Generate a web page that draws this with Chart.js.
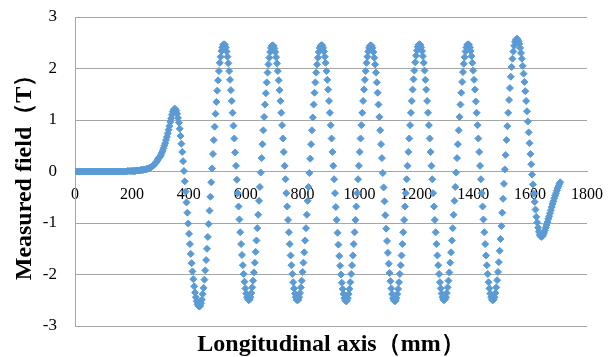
<!DOCTYPE html>
<html>
<head>
<meta charset="utf-8">
<script src="https://cdn.jsdelivr.net/npm/chart.js@4/dist/chart.umd.min.js"></script>
<style>
html,body{margin:0;padding:0;background:#ffffff;}
canvas{display:block;}
</style>
</head>
<body>
<canvas id="chart" width="608" height="357"></canvas>
<script>
// Tick labels
const xTickValues = [0, 200, 400, 600, 800, 1000, 1200, 1400, 1600, 1800];
const yTickValues = [-3, -2, -1, 0, 1, 2, 3];

// Measurement positions along the longitudinal axis (mm)
const positionMm = [
0,5,10,15,20,25,30,35,40,45,50,55,60,65,70,75,80,85,90,95,
100,105,110,115,120,125,130,135,140,145,150,155,160,165,170,175,180,185,190,195,
200,203,206,209,212,215,218,221,224,227,230,233,236,239,242,245,248,251,254,257,
260,263,266,269,272,275,278,281,284,287,290,293,296,299,302,305,308,311,314,317,
320,323,326,329,332,335,338,341,344,347,
350,353,356,359,362,365,368,371,374,377,380,383,386,389,392,395,398,401,404,407,
410,413,416,419,422,425,428,431,434,437,440,443,446,449,452,455,458,461,464,467,
470,473,476,479,482,485,488,491,494,497,500,503,506,509,512,515,518,521,524,527,
530,533,536,539,542,545,548,551,554,557,560,563,566,569,572,575,578,581,584,587,
590,593,596,599,602,605,608,611,614,617,620,623,626,629,632,635,638,641,644,647,
650,653,656,659,662,665,668,671,674,677,680,683,686,689,692,695,698,701,704,707,
710,713,716,719,722,725,728,731,734,737,740,743,746,749,752,755,758,761,764,767,
770,773,776,779,782,785,788,791,794,797,800,803,806,809,812,815,818,821,824,827,
830,833,836,839,842,845,848,851,854,857,860,863,866,869,872,875,878,881,884,887,
890,893,896,899,902,905,908,911,914,917,920,923,926,929,932,935,938,941,944,947,
950,953,956,959,962,965,968,971,974,977,980,983,986,989,992,995,998,1001,1004,1007,
1010,1013,1016,1019,1022,1025,1028,1031,1034,1037,1040,1043,1046,1049,1052,1055,1058,1061,1064,1067,
1070,1073,1076,1079,1082,1085,1088,1091,1094,1097,1100,1103,1106,1109,1112,1115,1118,1121,1124,1127,
1130,1133,1136,1139,1142,1145,1148,1151,1154,1157,1160,1163,1166,1169,1172,1175,1178,1181,1184,1187,
1190,1193,1196,1199,1202,1205,1208,1211,1214,1217,1220,1223,1226,1229,1232,1235,1238,1241,1244,1247,
1250,1253,1256,1259,1262,1265,1268,1271,1274,1277,1280,1283,1286,1289,1292,1295,1298,1301,1304,1307,
1310,1313,1316,1319,1322,1325,1328,1331,1334,1337,1340,1343,1346,1349,1352,1355,1358,1361,1364,1367,
1370,1373,1376,1379,1382,1385,1388,1391,1394,1397,1400,1403,1406,1409,1412,1415,1418,1421,1424,1427,
1430,1433,1436,1439,1442,1445,1448,1451,1454,1457,1460,1463,1466,1469,1472,1475,1478,1481,1484,1487,
1490,1493,1496,1499,1502,1505,1508,1511,1514,1517,1520,1523,1526,1529,1532,1535,1538,1541,1544,1547,
1550,1553,1556,1559,1562,1565,1568,1571,1574,1577,1580,1583,1586,1589,1592,1595,1598,1601,1604,1607,
1610,1613,1616,1619,1622,1625,1628,1631,1634,1637,1640,1643,1646,1649,1652,1655,1658,1661,1664,1667,
1670,1673,1676,1679,1682,1685,1688,1691,1694,1697,1700,1703,1706
];

// Measured field (T)
const fieldT = [
0,0,0,0,0,0,0,0,0,0,0,0,0,0,0,0,0,0,0,0,
0,0,0,0,0,0,0,0,0,0,0,0,0,0,0,0,0,0.01,0.01,0.01,
0.01,0.01,0.01,0.01,0.01,0.02,0.02,0.02,0.02,0.02,0.03,0.03,0.03,0.03,0.04,0.04,0.04,0.05,0.05,0.06,
0.06,0.07,0.08,0.09,0.10,0.12,0.13,0.15,0.17,0.19,0.22,0.25,0.27,0.29,0.32,0.36,0.40,0.45,0.50,0.55,
0.61,0.67,0.74,0.81,0.88,0.96,1.03,1.10,1.16,1.20,
1.22,1.21,1.18,1.12,1.04,0.95,0.83,0.69,0.54,0.38,0.20,0.01,-0.19,-0.39,-0.60,-0.80,-1.01,-1.21,-1.41,-1.60,-1.78,-1.94,-2.09,-2.23,-2.35,-2.44,-2.52,-2.58,-2.61,-2.62,
-2.61,-2.56,-2.49,-2.38,-2.26,-2.10,-1.92,-1.72,-1.50,-1.27,-1.02,-0.76,-0.49,-0.21,0.06,0.34,0.61,0.87,1.12,1.35,1.57,1.77,1.95,2.11,2.23,2.34,2.41,2.46,2.47,
2.46,2.41,2.33,2.23,2.10,1.95,1.78,1.58,1.37,1.14,0.89,0.64,0.37,0.11,-0.16,-0.42,-0.68,-0.93,-1.18,-1.41,-1.62,-1.82,-1.99,-2.14,-2.27,-2.37,-2.44,-2.48,-2.50,
-2.48,-2.44,-2.36,-2.25,-2.12,-1.96,-1.77,-1.56,-1.34,-1.10,-0.84,-0.57,-0.30,-0.02,0.26,0.53,0.80,1.06,1.30,1.52,1.73,1.92,2.08,2.21,2.32,2.40,2.44,2.45,
2.44,2.39,2.32,2.22,2.10,1.95,1.77,1.58,1.37,1.14,0.90,0.64,0.38,0.11,-0.15,-0.42,-0.68,-0.94,-1.18,-1.41,-1.63,-1.82,-1.99,-2.15,-2.27,-2.37,-2.44,-2.49,-2.50,
-2.49,-2.44,-2.36,-2.25,-2.12,-1.95,-1.77,-1.57,-1.34,-1.10,-0.84,-0.57,-0.30,-0.03,0.25,0.53,0.80,1.05,1.30,1.53,1.73,1.92,2.08,2.21,2.32,2.40,2.44,2.45,
2.45,2.40,2.33,2.23,2.11,1.95,1.78,1.59,1.37,1.14,0.90,0.64,0.38,0.11,-0.15,-0.42,-0.69,-0.94,-1.19,-1.42,-1.64,-1.83,-2.00,-2.16,-2.28,-2.38,-2.46,-2.50,-2.52,
-2.51,-2.46,-2.38,-2.28,-2.15,-1.99,-1.82,-1.63,-1.41,-1.18,-0.94,-0.68,-0.42,-0.15,0.11,0.38,0.64,0.90,1.14,1.37,1.59,1.78,1.95,2.11,2.23,2.33,2.40,2.44,2.45,
2.44,2.40,2.32,2.21,2.08,1.92,1.73,1.53,1.30,1.06,0.80,0.53,0.26,-0.03,-0.31,-0.58,-0.85,-1.11,-1.35,-1.58,-1.79,-1.97,-2.13,-2.27,-2.38,-2.46,-2.50,-2.52,
-2.51,-2.46,-2.38,-2.28,-2.15,-1.99,-1.82,-1.63,-1.41,-1.18,-0.94,-0.68,-0.42,-0.15,0.11,0.38,0.64,0.90,1.14,1.37,1.59,1.79,1.96,2.12,2.25,2.35,2.42,2.46,2.47,
2.46,2.41,2.34,2.24,2.11,1.96,1.78,1.59,1.37,1.14,0.90,0.64,0.38,0.11,-0.15,-0.42,-0.68,-0.94,-1.18,-1.41,-1.63,-1.82,-1.99,-2.15,-2.27,-2.37,-2.44,-2.49,-2.50,
-2.48,-2.44,-2.36,-2.25,-2.12,-1.96,-1.77,-1.57,-1.34,-1.10,-0.84,-0.57,-0.30,-0.02,0.26,0.53,0.80,1.06,1.30,1.53,1.74,1.93,2.09,2.22,2.33,2.41,2.46,2.47,
2.46,2.41,2.34,2.24,2.11,1.96,1.78,1.59,1.36,1.14,0.90,0.64,0.38,0.11,-0.15,-0.42,-0.68,-0.93,-1.18,-1.41,-1.63,-1.82,-1.99,-2.15,-2.27,-2.37,-2.44,-2.49,-2.50,
-2.48,-2.44,-2.36,-2.25,-2.11,-1.95,-1.76,-1.54,-1.31,-1.06,-0.80,-0.53,-0.24,0.04,0.32,0.61,0.88,1.14,1.39,1.62,1.84,2.03,2.19,2.33,2.44,2.52,2.56,2.58,
2.57,2.53,2.48,2.40,2.30,2.19,2.05,1.90,1.74,1.56,1.37,1.17,0.97,0.76,0.55,0.34,0.14,-0.06,-0.25,-0.43,-0.59,-0.74,-0.88,-0.99,-1.09,-1.17,-1.23,-1.26,-1.27,
-1.26,-1.23,-1.19,-1.14,-1.09,-1.04,-0.98,-0.92,-0.87,-0.81,-0.75,-0.69,-0.63,-0.58,-0.52,-0.47,-0.42,-0.37,-0.32,-0.28,-0.24,-0.21
];

if (positionMm.length !== fieldT.length) {
  throw new Error('length mismatch: ' + positionMm.length + ' vs ' + fieldT.length);
}

const serif = "'Liberation Serif', 'Times New Roman', serif";
const gridGray = '#a6a6a6';
const points = positionMm.map((x, i) => ({ x: x, y: fieldT[i] }));

new Chart(document.getElementById('chart').getContext('2d'), {
  type: 'scatter',
  data: {
    datasets: [{
      label: 'Measured field',
      data: points,
      pointStyle: 'rectRot',
      pointRadius: 3.5,
      pointHoverRadius: 3.5,
      backgroundColor: '#5B9BD5',
      borderColor: '#5B9BD5',
      borderWidth: 1
    }]
  },
  options: {
    responsive: false,
    animation: false,
    devicePixelRatio: 1,
    layout: { padding: { top: 17, right: 21, left: 0, bottom: 0 } },
    plugins: { legend: { display: false }, tooltip: { enabled: false } },
    scales: {
      x: {
        type: 'linear',
        position: { y: 0 },
        min: xTickValues[0],
        max: xTickValues[xTickValues.length - 1],
        afterBuildTicks: (s) => { s.ticks = xTickValues.map(v => ({ value: v })); },
        afterFit: (s) => { s.paddingLeft = 0; s.paddingRight = 0; },
        ticks: { autoSkip: false, maxRotation: 0, padding: 14, color: '#000',
                 font: { family: serif, size: 16 },
                 callback: (v) => String(v) },
        grid: { display: false, drawTicks: false },
        border: { display: true, color: gridGray, width: 1 }
      },
      x2: {
        type: 'linear',
        position: 'bottom',
        min: 0, max: 1800,
        ticks: { display: false },
        afterFit: (s) => { s.paddingLeft = 0; s.paddingRight = 0; },
        grid: { display: false, drawTicks: false },
        border: { display: false },
        title: { display: true, text: 'Longitudinal axis（mm）', color: '#000',
                 font: { family: serif, size: 24, weight: 'bold', lineHeight: 1 },
                 padding: { top: 7, bottom: 0 } }
      },
      y: {
        min: yTickValues[0],
        max: yTickValues[yTickValues.length - 1],
        afterBuildTicks: (s) => { s.ticks = yTickValues.map(v => ({ value: v })); },
        ticks: { padding: 2, color: '#000', font: { family: serif, size: 17 },
                 callback: (v) => String(v) },
        grid: { color: gridGray, drawTicks: true, tickLength: 16, tickColor: 'rgba(0,0,0,0)' },
        border: { display: true, color: gridGray },
        title: { display: true, text: 'Measured field（T）', color: '#000',
                 font: { family: serif, size: 24, weight: 'bold', lineHeight: 1.2 },
                 padding: { top: 10, bottom: 0 } },
        afterFit: (s) => { s.width = 75; }
      }
    }
  }
});
</script>
</body>
</html>
